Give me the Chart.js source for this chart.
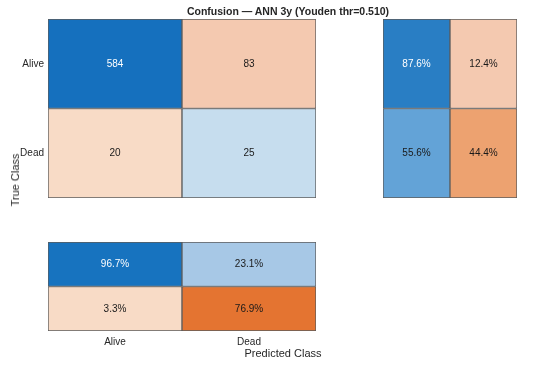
<!DOCTYPE html>
<html>
<head>
<meta charset="utf-8">
<script src="https://cdn.jsdelivr.net/npm/chart.js@4.4.0/dist/chart.umd.min.js"></script>
<style>
  body { margin:0; background:#fff; font-family:"Liberation Sans", Arial, sans-serif; }
  #wrap { position:relative; width:550px; height:365px; overflow:hidden; }
  canvas, .lbl { position:absolute; }
  .lbl { font-size:11px; color:#262626; white-space:nowrap; }
</style>
</head>
<body>
<div id="wrap">
  <canvas id="mainChart" style="left:0;top:0"></canvas>
  <canvas id="rowChart" style="left:370px;top:0"></canvas>
  <canvas id="colChart" style="left:0;top:230px"></canvas>
  <div class="lbl" style="left:288px;top:5px;transform:translateX(-50%);font-weight:bold;font-size:10.5px;">Confusion — ANN 3y (Youden thr=0.510)</div>
  <div class="lbl" style="left:15px;top:180px;transform:translate(-50%,-50%) rotate(-90deg);">True Class</div>
  <div class="lbl" style="left:283px;top:347px;transform:translateX(-50%);">Predicted Class</div>
</div>
<script>
// classes (true = rows, predicted = columns)
const classes = ['Alive', 'Dead'];
const counts = [[584, 83], [20, 25]];
const rowPct = [[87.6, 12.4], [55.6, 44.4]];   // row-normalized summary
const colPct = [[96.7, 23.1], [3.3, 76.9]];    // column-normalized summary

// cell colours
const countColors = [['#1570be', '#f4c9b0'], ['#f8dbc6', '#c6ddee']];
const rowColors = [['#297ec4', '#f4c9b0'], ['#63a3d7', '#eda270']];
const colColors = [['#1773bf', '#a7c8e6'], ['#f8dbc6', '#e47431']];
const whiteText = [[true, false], [false, false]];

const edge = '#5c5c5c';
const cellFont = '10px "Liberation Sans", Arial, sans-serif';

// write the value in the middle of each cell
const cellText = {
  id: 'cellText',
  afterDatasetsDraw(chart) {
    const ctx = chart.ctx;
    ctx.save();
    ctx.font = cellFont;
    ctx.textAlign = 'center';
    ctx.textBaseline = 'middle';
    chart.data.datasets.forEach((ds, i) => {
      chart.getDatasetMeta(i).data.forEach((el, j) => {
        const p = el.getCenterPoint();
        ctx.fillStyle = whiteText[i][j] ? '#ffffff' : '#1a1a1a';
        ctx.fillText(ds.texts[j], p.x, p.y);
      });
    });
    ctx.restore();
  }
};

function makeGrid(id, w, h, values, colors, fmt, pad, showY, showX) {
  const cv = document.getElementById(id);
  cv.width = w; cv.height = h;
  return new Chart(cv, {
    type: 'bar',
    data: {
      labels: classes,
      datasets: values.map((row, r) => ({
        data: row.map(() => [r, r + 1]),
        texts: row.map(fmt),
        backgroundColor: colors[r],
        borderColor: edge,
        borderWidth: 1,
        borderSkipped: false,
        grouped: false,
        barPercentage: 1,
        categoryPercentage: 1
      }))
    },
    options: {
      responsive: false,
      animation: false,
      layout: { padding: pad },
      plugins: { legend: { display: false }, tooltip: { enabled: false } },
      scales: {
        x: {
          display: showX,
          grid: { display: false, drawTicks: false },
          border: { display: false },
          ticks: { color: '#262626', font: { size: 10, family: '"Liberation Sans", Arial' }, padding: 5 },
          afterFit: s => { s.height = showX ? 20 : 0; s.paddingLeft = 0; s.paddingRight = 0; }
        },
        y: {
          display: showY,
          min: 0, max: 2, reverse: true,
          grid: { display: false, drawTicks: false },
          border: { display: false },
          afterBuildTicks: s => { s.ticks = [{ value: 0.5 }, { value: 1.5 }]; },
          ticks: {
            color: '#262626', font: { size: 10, family: '"Liberation Sans", Arial' }, padding: 4,
            callback: v => classes[Math.floor(v)]
          },
          afterFit: s => { s.width = showY ? 48 : 0; s.paddingTop = 0; s.paddingBottom = 0; }
        }
      }
    },
    plugins: [cellText]
  });
}

makeGrid('mainChart', 330, 205, counts, countColors, v => String(v),
  { left: 0, top: 19, right: 14, bottom: 7 }, true, false);
makeGrid('rowChart', 180, 205, rowPct, rowColors, v => v.toFixed(1) + '%',
  { left: 13, top: 19, right: 33, bottom: 7 }, false, false);
makeGrid('colChart', 330, 135, colPct, colColors, v => v.toFixed(1) + '%',
  { left: 48, top: 12, right: 14, bottom: 14 }, false, true);
</script>
</body>
</html>
